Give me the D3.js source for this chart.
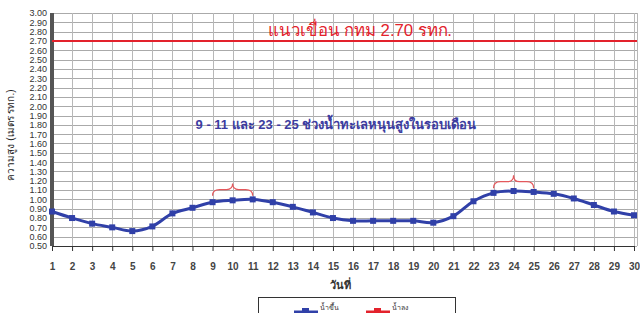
<!DOCTYPE html>
<html>
<head>
<meta charset="utf-8">
<script src="https://cdn.jsdelivr.net/npm/d3@7"></script>
<style>
  body { margin: 0; background: #fff; }
  svg { display: block; }
</style>
</head>
<body>
<div id="chart"></div>
<script>
// days of month and water level (m above MSL)
const days = d3.range(1, 31);
const levels = [0.87, 0.80, 0.74, 0.70, 0.66, 0.71, 0.85, 0.91, 0.97, 0.99,
                1.00, 0.97, 0.92, 0.86, 0.80, 0.77, 0.77, 0.77, 0.77, 0.75,
                0.82, 0.98, 1.07, 1.09, 1.08, 1.06, 1.01, 0.94, 0.87, 0.83];
const damLevel = 2.70;
const yTicks = d3.range(0.5, 3.0001, 0.1);
const braces = [{from: 9, to: 11, base: 1.04, tip: 1.17},
                {from: 23, to: 25, base: 1.12, tip: 1.26}];
const titleText = "แนวเขื่อน กทม 2.70 รทก.";
const noteText = "9 - 11 และ 23 - 25 ช่วงน้ำทะเลหนุนสูงในรอบเดือน";
const yLabel = "ความสูง (เมตร  รทก.)";
const xLabel = "วันที่";
const legendNames = ["น้ำขึ้น", "น้ำลง"];

const W = 640, H = 313;
const svg = d3.select("#chart").append("svg")
    .attr("width", W).attr("height", H)
    .style("font-family", "'Liberation Sans', 'Noto Sans', sans-serif");

var x = d3.scaleLinear().domain([1, 30]).range([52, 634]);
var y = d3.scaleLinear().domain([0.5, 3.0]).range([246, 13]);

// grid
svg.append("g").selectAll("line.h")
    .data(yTicks)
    .join("line")
    .attr("x1", x(1)).attr("x2", 637)
    .attr("y1", d => Math.round(y(d)) + 0.5).attr("y2", d => Math.round(y(d)) + 0.5)
    .attr("stroke", "#aaa").attr("stroke-width", 1);
svg.append("g").selectAll("line.v")
    .data(days.concat([30.15]))
    .join("line")
    .attr("x1", d => Math.round(x(d)) + 0.5).attr("x2", d => Math.round(x(d)) + 0.5)
    .attr("y1", y(3.0)).attr("y2", y(0.5))
    .attr("stroke", "#b8b8b8").attr("stroke-width", 1);

// y axis (dark band of dense ticks)
svg.append("rect")
    .attr("x", x(1) - 2).attr("y", y(3.0))
    .attr("width", 4).attr("height", y(0.5) - y(3.0))
    .attr("fill", "#555");
svg.append("g")
    .attr("transform", "translate(" + (x(1) - 2) + ",0)")
    .call(d3.axisLeft(y).tickValues(yTicks).tickFormat(d3.format(".2f")).tickSize(0).tickPadding(3))
    .call(g => g.select(".domain").remove())
    .selectAll("text")
    .attr("font-size", "9px")
    .attr("fill", "#333");

// x axis
svg.append("g")
    .attr("transform", "translate(0," + y(0.5) + ")")
    .call(d3.axisBottom(x).tickValues(days).tickFormat(d3.format("d")).tickSize(5).tickPadding(12))
    .call(g => g.select(".domain").attr("stroke", "#333"))
    .call(g => g.selectAll(".tick line").attr("stroke", "#333"))
    .selectAll("text")
    .attr("font-size", "10px")
    .attr("font-weight", "bold")
    .attr("fill", "#444");

// dam level line
svg.append("line")
    .attr("x1", x(1)).attr("x2", 637)
    .attr("y1", y(damLevel)).attr("y2", y(damLevel))
    .attr("stroke", "#e3222c").attr("stroke-width", 2);

// water level
svg.append("path")
    .datum(levels)
    .attr("fill", "none")
    .attr("stroke", "#3040a8")
    .attr("stroke-width", 3)
    .attr("d", d3.line()
        .x((d, i) => x(days[i]))
        .y(d => y(d))
        .curve(d3.curveCatmullRom));
svg.selectAll(".pt")
    .data(levels)
    .join("rect")
    .attr("x", (d, i) => x(days[i]) - 3)
    .attr("y", d => y(d) - 3)
    .attr("width", 6).attr("height", 6)
    .attr("fill", "#3040a8");

// braces over high-tide days
function bracePath(b) {
    var x0 = x(b.from), x1 = x(b.to), xm = (x0 + x1) / 2;
    var yb = y(b.base), yt = y(b.tip), ym = (yb + yt) / 2;
    return "M" + x0 + "," + yb +
        " Q" + x0 + "," + ym + " " + (x0 + 7) + "," + ym +
        " L" + (xm - 6) + "," + ym +
        " Q" + xm + "," + ym + " " + xm + "," + yt +
        " Q" + xm + "," + ym + " " + (xm + 6) + "," + ym +
        " L" + (x1 - 7) + "," + ym +
        " Q" + x1 + "," + ym + " " + x1 + "," + yb;
}
svg.selectAll(".brace")
    .data(braces)
    .join("path")
    .attr("d", bracePath)
    .attr("fill", "none")
    .attr("stroke", "#e4585c")
    .attr("stroke-width", 1.2);

// texts
svg.append("text")
    .attr("x", 360).attr("y", 36)
    .attr("text-anchor", "middle")
    .attr("font-size", "17px")
    .attr("fill", "#e3222c")
    .attr("textLength", 184)
    .attr("lengthAdjust", "spacingAndGlyphs")
    .text(titleText);
svg.append("text")
    .attr("x", 336).attr("y", 129)
    .attr("text-anchor", "middle")
    .attr("font-size", "13px")
    .attr("font-weight", "bold")
    .attr("fill", "#3c3ca0")
    .text(noteText);
svg.append("text")
    .attr("transform", "translate(14," + 135 + ") rotate(-90)")
    .attr("text-anchor", "middle")
    .attr("font-size", "10px")
    .attr("fill", "#222")
    .text(yLabel);
svg.append("text")
    .attr("x", 340).attr("y", 289)
    .attr("text-anchor", "middle")
    .attr("font-size", "11px")
    .attr("font-weight", "bold")
    .attr("fill", "#333")
    .text(xLabel);

// legend (cut at bottom)
var lg = svg.append("g");
lg.append("rect")
    .attr("x", 258.5).attr("y", 297.5)
    .attr("width", 197).attr("height", 30)
    .attr("fill", "#fff").attr("stroke", "#333");
[{c: "#3040a8", x0: 294}, {c: "#e3222c", x0: 366}].forEach(function(s, i) {
    lg.append("line")
        .attr("x1", s.x0).attr("x2", s.x0 + 24)
        .attr("y1", 312).attr("y2", 312)
        .attr("stroke", s.c).attr("stroke-width", 3);
    lg.append("rect")
        .attr("x", s.x0 + 8).attr("y", 308)
        .attr("width", 7).attr("height", 7)
        .attr("fill", s.c);
    lg.append("text")
        .attr("x", s.x0 + 26).attr("y", 310)
        .attr("font-size", "7px")
        .attr("fill", "#333")
        .text(legendNames[i]);
});
</script>
</body>
</html>
